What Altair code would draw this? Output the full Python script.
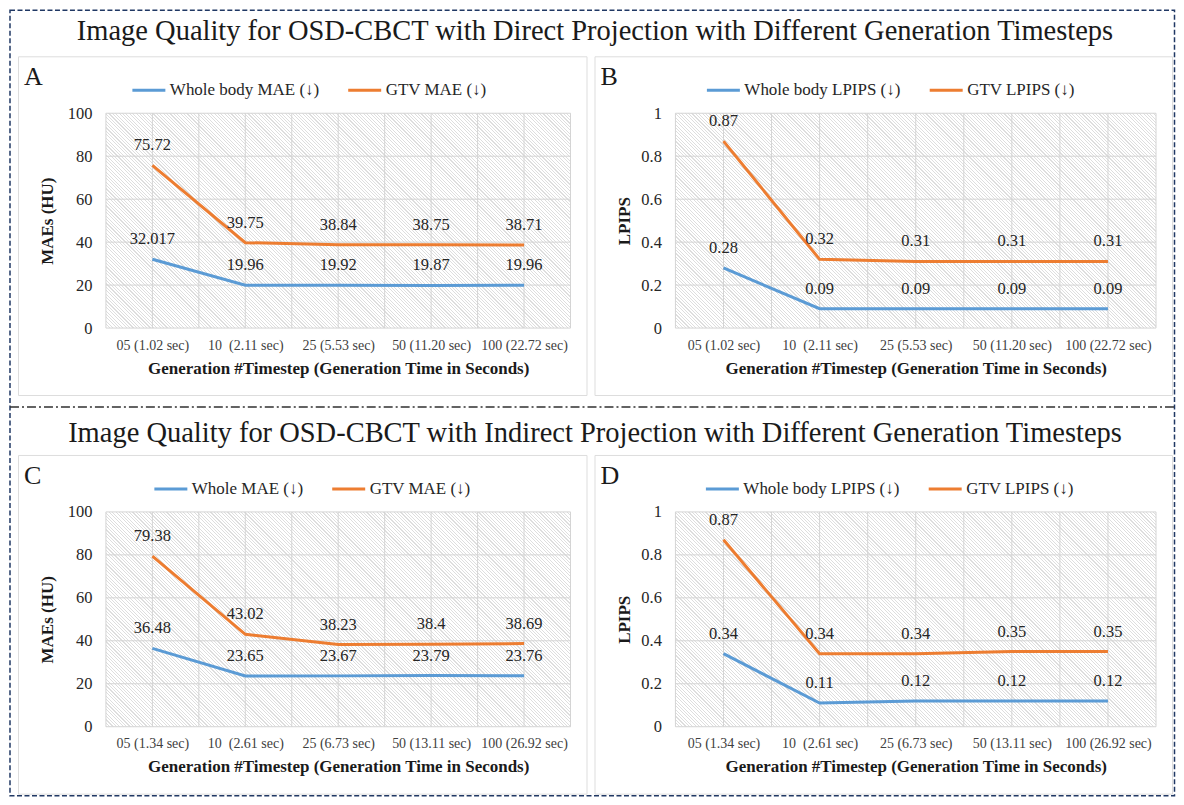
import json
import altair as alt
import pandas as pd

FONT = "Liberation Serif"
BLUE = "#5B9BD5"
ORANGE = "#ED7D31"
INK = "#1a1a1a"

title_top = "Image Quality for OSD-CBCT with Direct Projection with Different Generation Timesteps"
title_bottom = "Image Quality for OSD-CBCT with Indirect Projection with Different Generation Timesteps"

cats_direct = ["05 (1.02 sec)", "10\u00a0 (2.11 sec)", "25 (5.53 sec)", "50 (11.20 sec)", "100 (22.72 sec)"]
cats_indirect = ["05 (1.34 sec)", "10\u00a0 (2.61 sec)", "25 (6.73 sec)", "50 (13.11 sec)", "100 (26.92 sec)"]

a_whole = [32.017, 19.96, 19.92, 19.87, 19.96]
a_gtv = [75.72, 39.75, 38.84, 38.75, 38.71]
b_whole = [0.28, 0.09, 0.09, 0.09, 0.09]
b_gtv = [0.87, 0.32, 0.31, 0.31, 0.31]
c_whole = [36.48, 23.65, 23.67, 23.79, 23.76]
c_gtv = [79.38, 43.02, 38.23, 38.4, 38.69]
d_whole = [0.34, 0.11, 0.12, 0.12, 0.12]
d_gtv = [0.87, 0.34, 0.34, 0.35, 0.35]

names_a = ["Whole body MAE (\u2193)", "GTV MAE (\u2193)"]
names_b = ["Whole body LPIPS (\u2193)", "GTV LPIPS (\u2193)"]
names_c = ["Whole MAE (\u2193)", "GTV MAE (\u2193)"]
names_d = ["Whole body LPIPS (\u2193)", "GTV LPIPS (\u2193)"]

mae_ticks = [0, 20, 40, 60, 80, 100]
lpips_ticks = [0, 0.2, 0.4, 0.6, 0.8, 1]
x_grid = [-0.5, 0, 0.5, 1, 1.5, 2, 2.5, 3, 3.5, 4, 4.5]

PANEL_H = 339
PLOT_TOP = 57
PLOT_BOTTOM = 272
W_LEFT = 569
W_RIGHT = 578
GAP_COL = 8
GAP_ROW = 60


def hatch(w, h, period=2.4, line=0.8, c_line="#dedede", c_bg="#ffffff"):
    r = h / w
    k = (1 + r) / (1 + r * r)
    x2 = k
    y2 = 1 - r * k
    L = (w + h) / 2 ** 0.5
    n = int(L / period) + 1
    stops = []
    for i in range(n):
        a = min(i * period / L, 1)
        b = min((i * period + line) / L, 1)
        c = min((i + 1) * period / L, 1)
        stops += [
            {"offset": round(a, 5), "color": c_line},
            {"offset": round(b, 5), "color": c_line},
            {"offset": round(b, 5), "color": c_bg},
            {"offset": round(c, 5), "color": c_bg},
        ]
    return {"gradient": "linear", "x1": 0, "y1": 1, "x2": x2, "y2": y2, "stops": stops}


ONE = pd.DataFrame({"k": [1]})


def panel(letter, cats, whole, gtv, names, ticks, ytitle, width, plot_left, plot_right,
          legend_x, ytitle_x, decor=False):
    ymax = ticks[-1]
    xs = alt.Scale(domain=[-0.5, 4.5], range=[plot_left, plot_right], nice=False, zero=False)
    ys = alt.Scale(domain=[0, ymax], range=[PLOT_BOTTOM, PLOT_TOP], nice=False, zero=False)
    label_expr = json.dumps(cats) + "[datum.value]"
    xaxis = alt.Axis(
        values=[0, 1, 2, 3, 4], labelExpr=label_expr, grid=False, domain=False, ticks=False,
        tickSize=0, labelPadding=10, labelFont=FONT, labelFontSize=14, labelColor="#404040",
        labelOverlap=False, labelFlush=False,
        title="Generation #Timestep (Generation Time in Seconds)", titleFont=FONT,
        titleFontSize=17, titleFontWeight="bold", titleColor=INK, titleY=40,
        titleBaseline="middle", offset=PLOT_BOTTOM - PANEL_H,
    )
    yaxis = alt.Axis(
        values=ticks, format="~r", grid=False, domain=False, ticks=False, tickSize=0,
        labelPadding=14, labelFont=FONT, labelFontSize=16.5, labelColor="#262626",
        labelOverlap=False, labelFlush=False,
        title=ytitle, titleFont=FONT, titleFontSize=17, titleFontWeight="bold",
        titleColor=INK, titleX=ytitle_x, titleBaseline="middle", titleAngle=-90,
        offset=-plot_left,
    )

    bg_df = pd.DataFrame({"x0": [-0.5], "x1": [4.5], "y0": [0], "y1": [ymax]})
    bg = alt.Chart(bg_df).mark_rect(
        fill=hatch(plot_right - plot_left, PLOT_BOTTOM - PLOT_TOP), strokeWidth=0
    ).encode(
        x=alt.X("x0:Q", scale=xs, axis=xaxis), x2="x1:Q",
        y=alt.Y("y0:Q", scale=ys, axis=yaxis), y2="y1:Q",
    )

    vg_df = pd.DataFrame({"gx": x_grid, "g0": [0] * len(x_grid), "g1": [ymax] * len(x_grid)})
    vgrid = alt.Chart(vg_df).mark_rule(color="#d4d4d4", strokeWidth=1).encode(
        x=alt.X("gx:Q", scale=xs, axis=xaxis),
        y=alt.Y("g0:Q", scale=ys, axis=yaxis), y2="g1:Q",
    )
    hg_df = pd.DataFrame({"gy": ticks, "g0": [-0.5] * len(ticks), "g1": [4.5] * len(ticks)})
    hgrid = alt.Chart(hg_df).mark_rule(color="#d4d4d4", strokeWidth=1).encode(
        y=alt.Y("gy:Q", scale=ys, axis=yaxis),
        x=alt.X("g0:Q", scale=xs, axis=xaxis), x2="g1:Q",
    )

    df = pd.DataFrame({
        "idx": list(range(5)) * 2,
        "value": whole + gtv,
        "series": [names[0]] * 5 + [names[1]] * 5,
        "label": [str(v) for v in whole + gtv],
    })
    legend = alt.Legend(
        orient="none", legendX=legend_x, legendY=16, direction="horizontal", title=None,
        symbolType="stroke", symbolSize=1089, symbolStrokeWidth=3, labelFont=FONT,
        labelFontSize=17, labelColor="#262626", labelOffset=3, columnPadding=22,
        padding=0, labelLimit=400,
    )
    lines = alt.Chart(df).mark_line(strokeWidth=3).encode(
        x=alt.X("idx:Q", scale=xs, axis=xaxis),
        y=alt.Y("value:Q", scale=ys, axis=yaxis),
        color=alt.Color("series:N", scale=alt.Scale(domain=names, range=[BLUE, ORANGE]),
                        legend=legend, sort=names),
    )
    labels = alt.Chart(df).mark_text(
        dy=-20, font=FONT, fontSize=16.5, color="#262626", baseline="middle", align="center"
    ).encode(
        x=alt.X("idx:Q", scale=xs, axis=xaxis),
        y=alt.Y("value:Q", scale=ys, axis=yaxis),
        text="label:N",
    )
    tag = alt.Chart(ONE).mark_text(
        font=FONT, fontSize=26, color=INK, align="left", baseline="middle"
    ).encode(x=alt.value(6), y=alt.value(21), text=alt.value(letter))

    layers = [bg, vgrid, hgrid, lines, labels, tag]
    if decor:
        full_w = W_LEFT + GAP_COL + W_RIGHT
        outer = alt.Chart(ONE).mark_rect(
            fillOpacity=0, stroke="#203864", strokeWidth=1.5, strokeDash=[5, 2.5]
        ).encode(x=alt.value(-8), x2=alt.value(1157.5), y=alt.value(-46), y2=alt.value(740))
        sep = alt.Chart(ONE).mark_rule(
            color="#303030", strokeWidth=1.5, strokeDash=[9, 3, 2, 3]
        ).encode(x=alt.value(-8), x2=alt.value(1157.5), y=alt.value(351))
        t1 = alt.Chart(ONE).mark_text(
            font=FONT, fontSize=28.5, color=INK, align="center", baseline="middle"
        ).encode(x=alt.value(full_w / 2), y=alt.value(-25), text=alt.value(title_top))
        t2 = alt.Chart(ONE).mark_text(
            font=FONT, fontSize=28.5, color=INK, align="center", baseline="middle"
        ).encode(x=alt.value(full_w / 2), y=alt.value(377), text=alt.value(title_bottom))
        layers += [outer, sep, t1, t2]

    return alt.layer(*layers).properties(width=width, height=PANEL_H)


A = panel("A", cats_direct, a_whole, a_gtv, names_a, mae_ticks, "MAEs (HU)", W_LEFT, 88, 553, 113, -58, decor=True)
B = panel("B", cats_direct, b_whole, b_gtv, names_b, lpips_ticks, "LPIPS", W_RIGHT, 81, 562, 111, -51)
C = panel("C", cats_indirect, c_whole, c_gtv, names_c, mae_ticks, "MAEs (HU)", W_LEFT, 88, 553, 135, -58)
D = panel("D", cats_indirect, d_whole, d_gtv, names_d, lpips_ticks, "LPIPS", W_RIGHT, 81, 562, 110, -51)

chart = alt.concat(
    A, B, C, D, columns=2, spacing={"row": GAP_ROW, "column": GAP_COL},
    bounds="flush", align="each",
).resolve_scale(color="independent").properties(
    padding={"left": 0, "top": 0, "right": 0, "bottom": 0}
).configure_view(
    stroke="#d9d9d9", strokeWidth=1.5, fill="white"
).configure(background="white")

chart.save("out.html", embed_options={"renderer": "svg", "actions": False})
